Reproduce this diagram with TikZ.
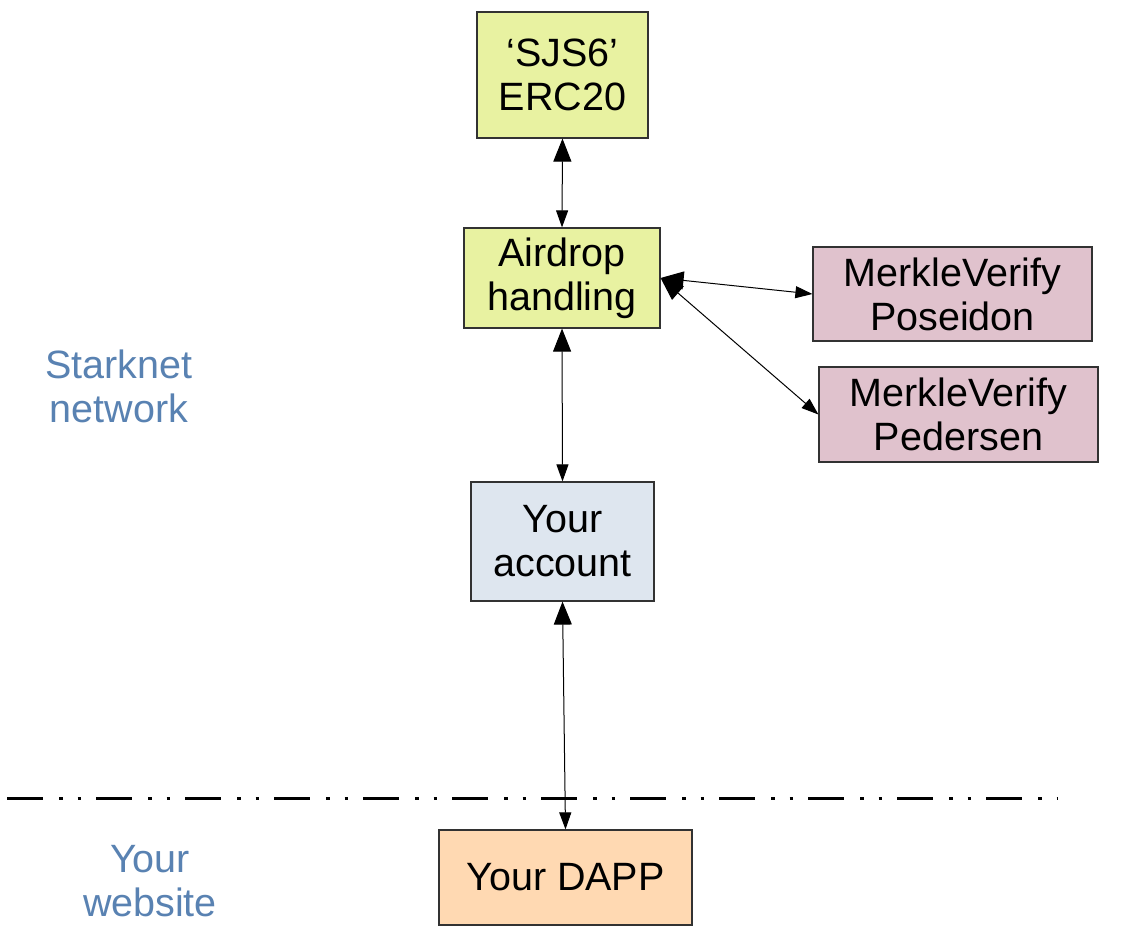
\documentclass[tikz,border=0pt]{standalone}
\usepackage{fontspec}
\setmainfont{Liberation Sans}
\usetikzlibrary{arrows.meta}
\definecolor{cyel}{RGB}{232,242,161}
\definecolor{cpink}{RGB}{224,194,205}
\definecolor{cblue}{RGB}{222,230,239}
\definecolor{corange}{RGB}{255,217,178}
\definecolor{clab}{RGB}{89,130,178}
\definecolor{cedge}{RGB}{50,50,50}
\begin{document}
\begin{tikzpicture}[x=1pt,y=-1pt,
  box/.style={draw=cedge, line width=1.2pt, inner sep=0pt, align=center, font=\fontsize{39.5}{44}\selectfont},
  conn/.style={line width=1pt, {Triangle[length=23pt,width=18pt]}-{Triangle[length=17pt,width=12pt]}},
  lab/.style={text=clab, align=center, font=\fontsize{39.5}{44}\selectfont},
  sep/.style={line width=3pt, dash pattern=on 36pt off 16pt on 3.5pt off 15pt on 3.5pt off 15pt}]
\useasboundingbox[fill=white] (0,0) rectangle (1130,941);
\draw[sep] (7,798) -- (1058,798);
\node[box, fill=cyel, minimum width=171pt, minimum height=126pt] (sjs) at (562.5,75) {‘SJS6’\\ERC20};
\node[box, fill=cyel, minimum width=196pt, minimum height=100pt] (air) at (562,278) {Airdrop\\handling};
\node[box, fill=cpink, minimum width=279pt, minimum height=94pt] (pos) at (952.5,294) {MerkleVerify\\Poseidon};
\node[box, fill=cpink, minimum width=279pt, minimum height=95pt] (ped) at (958.5,414.5) {MerkleVerify\\Pedersen};
\node[box, fill=cblue, minimum width=183pt, minimum height=119pt] (acc) at (562.5,541.5) {Your\\account};
\node[box, fill=corange, minimum width=253pt, minimum height=95pt] (dapp) at (565.5,877.5) {Your DAPP};
\node[lab] (stark) at (119,386) {Starknet\\network};
\node[lab] (web) at (150,881) {Your\\website};
\draw[conn] (sjs.south) -- (air.north);
\draw[conn] (air.south) -- (acc.north);
\draw[conn] (acc.south) -- (dapp.north);
\draw[conn] (air.east) -- (pos.west);
\draw[conn] (air.east) -- (ped.west);
\end{tikzpicture}
\end{document}
